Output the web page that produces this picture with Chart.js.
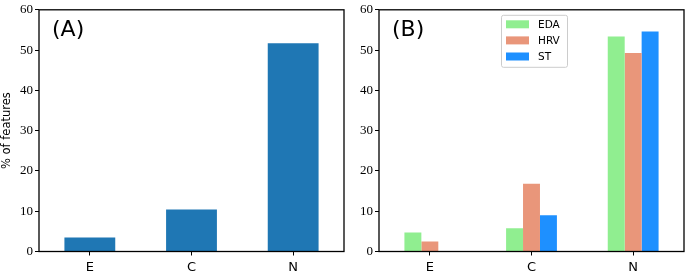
<!DOCTYPE html>
<html>
<head>
<meta charset="utf-8">
<script src="https://cdn.jsdelivr.net/npm/chart.js@4.4.0/dist/chart.umd.min.js"></script>
<style>
  html, body { margin: 0; padding: 0; background: #ffffff; }
  body { width: 685px; height: 272px; position: relative; overflow: hidden; }
  canvas { position: absolute; top: 0; }
  #cA { left: 0px; }
  #cB { left: 340px; }
</style>
</head>
<body>
<canvas id="cA" width="345" height="272"></canvas>
<canvas id="cB" width="345" height="272"></canvas>
<script>
// ---- data ----
const categories = ['E', 'C', 'N'];
const allFeatures = [3.5, 10.4, 51.7];
const edaValues = [4.7, 5.8, 53.4];
const hrvValues = [2.5, 16.8, 49.3];
const stValues = [0, 9.0, 54.6];
const seriesNames = ['EDA', 'HRV', 'ST'];
const yTickValues = [0, 10, 20, 30, 40, 50, 60];
const yAxisTitle = '% of features';
const panelLabels = ['(A)', '(B)'];

// ---- styles ----
const SANS = 'DejaVu Sans';
const SERIF = 'Liberation Serif';
const colA = '#1f77b4';
const seriesColors = ['#90ee90', '#e9967a', '#1e90ff'];

const framePlugin = {
  id: 'frame',
  afterDraw(chart, args, opts) {
    const { ctx, chartArea: a } = chart;
    ctx.save();
    ctx.strokeStyle = '#000';
    ctx.lineWidth = 1.3;
    ctx.strokeRect(a.left, a.top, a.right - a.left, a.bottom - a.top);
    ctx.fillStyle = '#000';
    ctx.font = '22px "' + SANS + '"';
    ctx.textAlign = 'left';
    ctx.textBaseline = 'alphabetic';
    ctx.fillText(opts.label, a.left + 13, a.top + 26);
    ctx.restore();
  }
};

const legendPlugin = {
  id: 'boxLegend',
  afterDraw(chart, args, opts) {
    if (!opts.show) return;
    const { ctx, chartArea: a } = chart;
    const w = 66, h = 52;
    const x = (a.left + a.right) / 2 + 2.5 - w / 2;
    const y = a.top + 5;
    ctx.save();
    ctx.fillStyle = 'rgba(255,255,255,0.8)';
    ctx.strokeStyle = '#cccccc';
    ctx.lineWidth = 1;
    ctx.beginPath();
    if (ctx.roundRect) ctx.roundRect(x + 0.5, y + 0.5, w, h, 2); else ctx.rect(x + 0.5, y + 0.5, w, h);
    ctx.fill();
    ctx.stroke();
    ctx.font = '10.5px "' + SANS + '"';
    ctx.textBaseline = 'middle';
    ctx.textAlign = 'left';
    chart.data.datasets.forEach((ds, i) => {
      const cy = y + 9.5 + i * 16.1;
      ctx.fillStyle = ds.backgroundColor;
      ctx.fillRect(x + 5, cy - 4, 23, 8);
      ctx.fillStyle = '#000';
      ctx.fillText(ds.label, x + 37, cy + 0.5);
    });
    ctx.restore();
  }
};

function makeOptions(showTitle, label, showLegend) {
  return {
    responsive: false,
    animation: false,
    devicePixelRatio: 1,
    layout: { padding: { top: 4, right: 1, left: 0, bottom: 0 } },
    plugins: {
      legend: { display: false },
      tooltip: { enabled: false },
      frame: { label: label },
      boxLegend: { show: showLegend }
    },
    scales: {
      x: {
        offset: true,
        grid: { display: true, offset: false, drawOnChartArea: false, drawTicks: true, tickLength: 4, color: '#000', lineWidth: 1 },
        border: { display: false },
        ticks: { color: '#000', font: { family: SANS, size: 13 }, padding: 4.5, maxRotation: 0 },
        afterFit(s) { s.height = 20.5; }
      },
      y: {
        min: 0, max: 60,
        afterBuildTicks(s) { s.ticks = yTickValues.map(v => ({ value: v })); },
        grid: { display: true, drawOnChartArea: false, drawTicks: true, tickLength: 4, color: '#000', lineWidth: 1 },
        border: { display: false },
        ticks: { color: '#000', font: { family: SERIF, size: 13 }, padding: 2 },
        title: { display: showTitle, text: yAxisTitle, color: '#000', font: { family: SANS, size: 11.5 }, padding: { top: 0, bottom: 0 } },
        afterFit(s) { s.width = 39; }
      }
    }
  };
}

new Chart(document.getElementById('cA'), {
  type: 'bar',
  data: {
    labels: categories,
    datasets: [{ label: 'all', data: allFeatures, backgroundColor: colA, borderWidth: 0, categoryPercentage: 0.5, barPercentage: 1 }]
  },
  options: makeOptions(true, panelLabels[0], false),
  plugins: [framePlugin, legendPlugin]
});

const seriesData = [edaValues, hrvValues, stValues];
new Chart(document.getElementById('cB'), {
  type: 'bar',
  data: {
    labels: categories,
    datasets: seriesNames.map((n, i) => ({ label: n, data: seriesData[i], backgroundColor: seriesColors[i], borderWidth: 0, categoryPercentage: 0.5, barPercentage: 1 }))
  },
  options: makeOptions(false, panelLabels[1], true),
  plugins: [framePlugin, legendPlugin]
});
</script>
</body>
</html>
